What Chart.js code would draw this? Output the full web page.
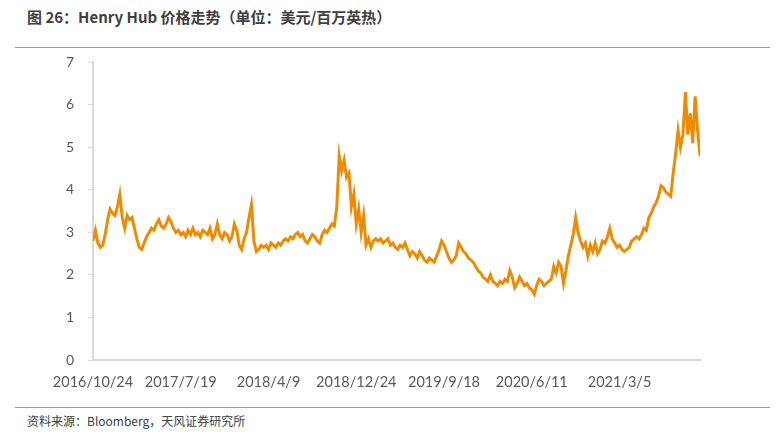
<!DOCTYPE html>
<html>
<head>
<meta charset="utf-8">
<script src="https://cdn.jsdelivr.net/npm/chart.js@4/dist/chart.umd.min.js"></script>
<style>
  body { margin: 0; background: #fff; width: 784px; height: 436px; position: relative; overflow: hidden; }
  #title { position: absolute; left: 27px; top: 6px; font: bold 15px "Noto Sans CJK SC", sans-serif; color: #404040; }
  .rule { position: absolute; left: 15px; width: 755px; height: 0; border-top: 1.5px solid #e4853a; }
  #source { position: absolute; left: 27px; top: 412px; font: 12px "Noto Sans CJK SC", sans-serif; color: #404040; }
  #wrap { position: absolute; left: 0; top: 40px; width: 720px; height: 350px; }
</style>
</head>
<body>
<div id="title">图 26：Henry Hub 价格走势（单位：美元/百万英热）</div>
<div class="rule" style="top:47px"></div>
<div id="wrap"><canvas id="lineChart"></canvas></div>
<div class="rule" style="top:407px"></div>
<div id="source">资料来源：Bloomberg，天风证券研究所</div>
<script>
// 刻度标签（每 36 个数据点一个）
var tickLabels = ['2016/10/24', '2017/7/19', '2018/4/9', '2018/12/24', '2019/9/18', '2020/6/11', '2021/3/5'];
var pointsPerTick = 36;

// Henry Hub 价格（美元/百万英热）
var prices = [
  2.80,3.05,2.75,2.65,2.70,2.95,3.30,3.55,3.45,3.40,3.60,3.90,3.35,3.10,3.40,3.30,3.35,3.10,2.85,2.65,2.60,2.75,2.90,3.00,3.10,3.05,3.20,3.30,3.15,3.10,3.20,3.35,3.25,3.10,3.00,3.05,
  2.95,3.00,2.90,3.05,2.95,3.10,2.95,3.00,2.90,3.05,3.00,2.95,3.10,2.85,2.95,3.20,2.95,2.85,3.00,2.95,2.80,2.90,3.20,3.05,2.70,2.60,2.85,3.00,3.35,3.65,2.80,2.55,2.60,2.70,2.65,2.70,
  2.60,2.75,2.70,2.65,2.75,2.70,2.80,2.85,2.80,2.90,2.85,2.95,3.00,2.90,2.95,2.80,2.75,2.85,2.95,2.90,2.80,2.75,2.95,3.05,3.00,3.10,3.20,3.15,3.60,4.80,4.45,4.70,4.30,4.40,3.60,3.90,
  3.20,3.55,3.00,3.40,2.70,2.85,2.65,2.80,2.85,2.80,2.85,2.75,2.80,2.85,2.70,2.75,2.65,2.60,2.70,2.65,2.75,2.60,2.45,2.55,2.50,2.40,2.55,2.45,2.35,2.30,2.40,2.35,2.30,2.45,2.60,2.80,
  2.70,2.55,2.40,2.30,2.35,2.45,2.75,2.65,2.55,2.50,2.40,2.35,2.30,2.20,2.10,2.05,1.95,1.90,1.85,2.00,1.85,1.80,1.75,1.85,1.80,1.90,1.85,2.10,1.95,1.70,1.80,1.95,1.85,1.75,1.80,1.70,
  1.65,1.55,1.75,1.90,1.85,1.75,1.80,1.85,1.90,2.20,2.05,2.30,2.20,1.80,2.10,2.45,2.70,2.95,3.35,3.00,2.80,2.65,2.75,2.45,2.70,2.55,2.75,2.50,2.60,2.80,2.75,2.90,3.10,2.85,2.75,2.65,
  2.70,2.60,2.55,2.60,2.65,2.80,2.85,2.90,2.85,2.95,3.10,3.05,3.35,3.45,3.60,3.70,3.85,4.10,4.05,3.95,3.90,3.85,4.40,4.85,5.40,5.00,5.30,6.30,5.30,5.80,5.10,6.20,5.40,4.80
];

var points = prices.map(function (v, i) { return { x: i, y: v }; });
var fontFamily = 'Lato, "Noto Sans", sans-serif';

var ctx = document.getElementById('lineChart').getContext('2d');
var chart = new Chart(ctx, {
    type: 'line',
    data: {
        datasets: [{
            data: points,
            borderColor: '#f08a00',
            borderWidth: 3,
            pointRadius: 0,
            tension: 0
        }]
    },
    options: {
        responsive: true,
        maintainAspectRatio: false,
        animation: false,
        layout: { padding: { top: 8, right: 20, bottom: 0, left: 0 } },
        plugins: { legend: { display: false }, tooltip: { enabled: false } },
        scales: {
            x: {
                type: 'linear',
                min: 0,
                max: prices.length - 1,
                afterFit: function (s) { s.height = 30; },
                border: { color: '#d9d9d9', width: 2 },
                grid: { display: false },
                ticks: {
                    stepSize: pointsPerTick,
                    autoSkip: false,
                    maxRotation: 0,
                    color: '#595959',
                    font: { family: fontFamily, size: 14.5 },
                    padding: 6,
                    callback: function (v) {
                        return v % pointsPerTick === 0 ? (tickLabels[v / pointsPerTick] || '') : '';
                    }
                }
            },
            y: {
                min: 0,
                max: 7,
                afterFit: function (s) { s.width = 93; },
                border: { color: '#d9d9d9', width: 2 },
                grid: { drawOnChartArea: false, tickLength: 5, color: '#d9d9d9' },
                ticks: {
                    stepSize: 1,
                    color: '#595959',
                    font: { family: fontFamily, size: 14 },
                    padding: 14
                }
            }
        }
    }
});
</script>
</body>
</html>
